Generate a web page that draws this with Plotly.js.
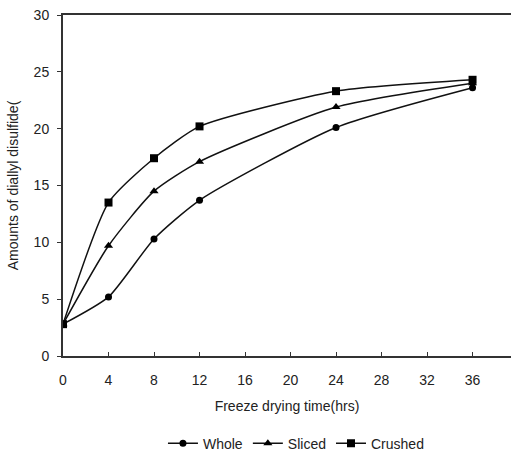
<!DOCTYPE html>
<html><head><meta charset="utf-8">
<script src="https://cdn.plot.ly/plotly-3.0.1.min.js"></script>
<style>body{margin:0;background:#fff}#c{width:511px;height:455px}</style>
</head><body><div id="c"></div>
<script>
var hours = [0, 4, 8, 12, 24, 36];
var whole = [2.8, 5.2, 10.3, 13.7, 20.1, 23.6];
var sliced = [2.8, 9.7, 14.5, 17.1, 21.9, 24.0];
var crushed = [2.8, 13.5, 17.4, 20.2, 23.3, 24.3];
var seriesNames = ['Whole', 'Sliced', 'Crushed'];
var xTicks = [0, 4, 8, 12, 16, 20, 24, 28, 32, 36];
var yTicks = [0, 5, 10, 15, 20, 25, 30];

var symbols = ['circle', 'triangle-up', 'square'];
var sizes = [7, 8, 8];
var data = [whole, sliced, crushed].map(function (ys, i) {
  return {
    x: hours, y: ys, name: seriesNames[i], type: 'scatter', mode: 'lines+markers',
    line: {color: '#111', width: 1.5, shape: 'spline', smoothing: 0.6},
    marker: {symbol: symbols[i], size: sizes[i], color: '#000'}
  };
});
var fam = 'Liberation Sans, Arial, sans-serif';
var layout = {
  width: 511, height: 455,
  margin: {l: 63, r: 0, t: 15, b: 99, autoexpand: false},
  paper_bgcolor: '#fff', plot_bgcolor: '#fff',
  font: {family: fam, size: 14, color: '#222'},
  showlegend: true,
  legend: {orientation: 'h', x: 0.52, xanchor: 'center', y: -0.21, yanchor: 'top',
           font: {family: fam, size: 14, color: '#222'}, itemwidth: 30},
  xaxis: {
    range: [0, 39.38], tickvals: xTicks, ticktext: xTicks.map(String),
    automargin: false,
    showgrid: false, zeroline: false, showline: true, linecolor: '#333', linewidth: 2,
    mirror: true, ticks: 'inside', ticklen: 4, tickcolor: '#333',
    ticklabelstandoff: 10,
    tickfont: {family: fam, size: 14, color: '#222'},
    title: {text: 'Freeze drying time(hrs)', font: {family: fam, size: 14, color: '#222'}, standoff: 14}
  },
  yaxis: {
    range: [0, 30], tickvals: yTicks, ticktext: yTicks.map(String),
    automargin: false,
    showgrid: false, zeroline: false, showline: true, linecolor: '#333', linewidth: 2,
    ticks: 'outside', ticklen: 4, tickcolor: '#333',
    ticklabelstandoff: 5,
    tickfont: {family: fam, size: 14, color: '#222'},
    title: {text: 'Amounts of diallyl disulfide(', font: {family: fam, size: 14, color: '#222'}, standoff: 12}
  }
};
Plotly.newPlot('c', data, layout, {staticPlot: true});
</script></body></html>
